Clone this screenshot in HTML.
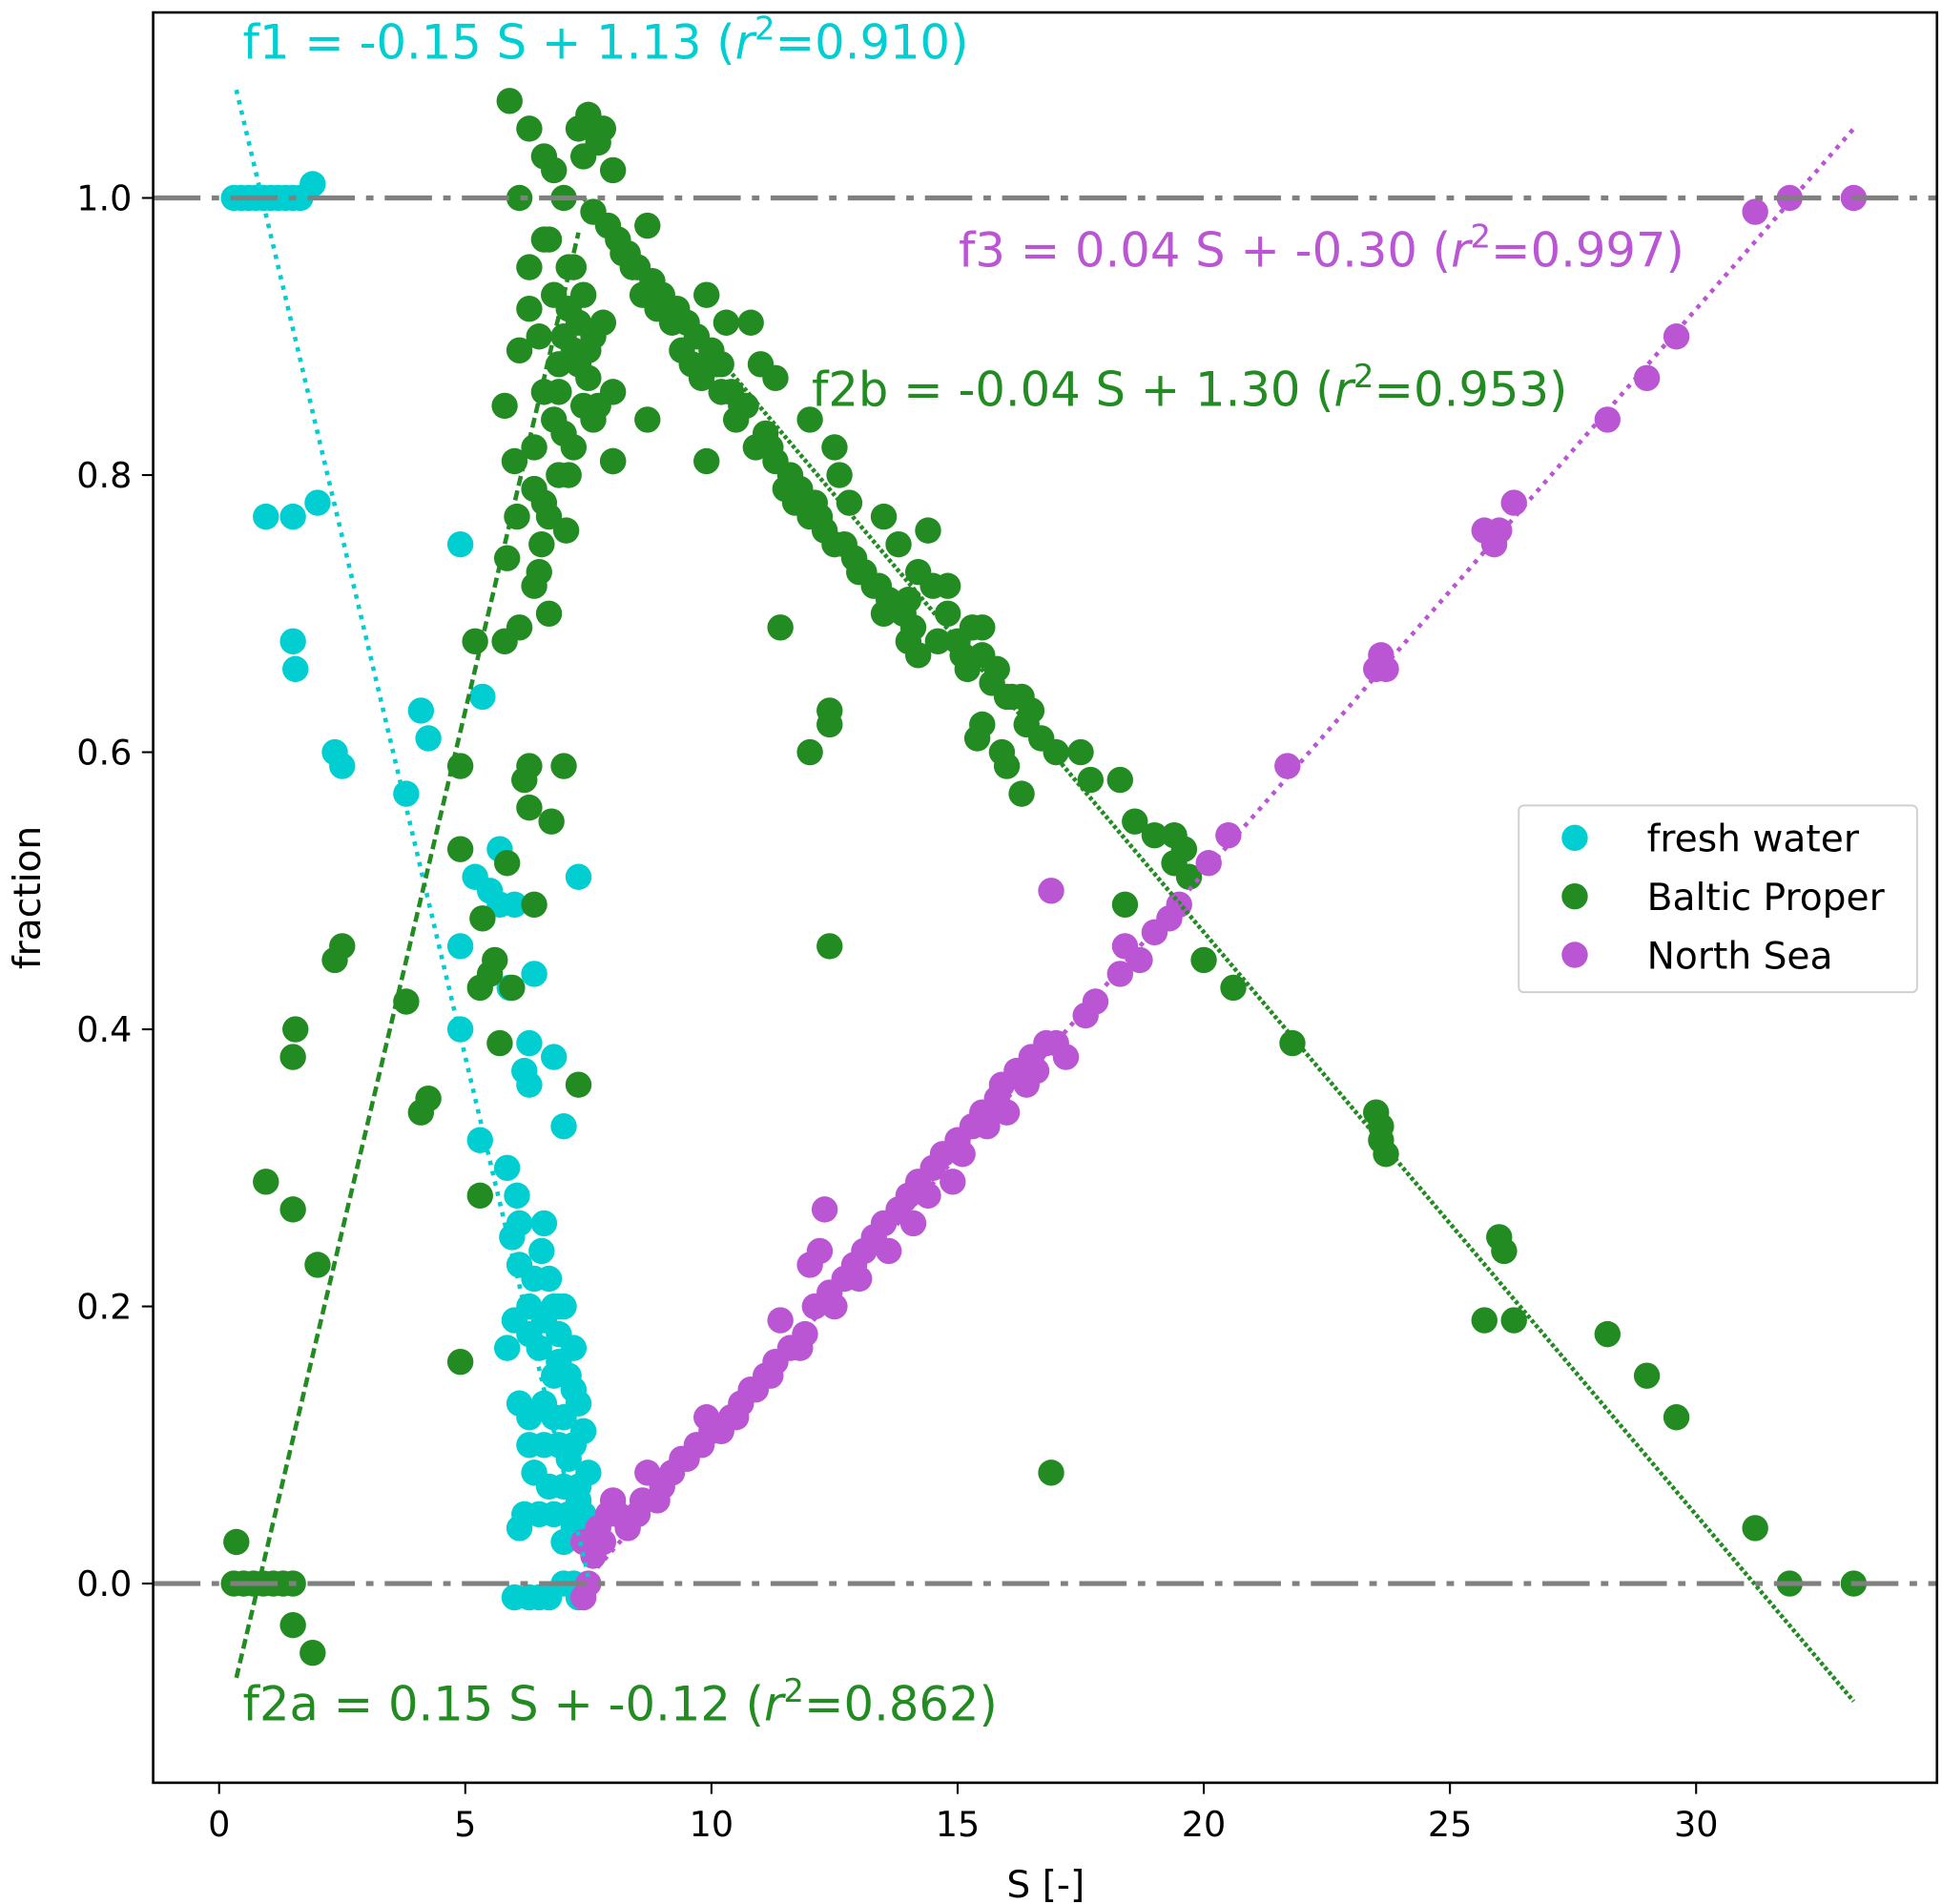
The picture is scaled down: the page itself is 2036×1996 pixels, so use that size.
<!DOCTYPE html>
<html><head><meta charset="utf-8"><style>
html,body{margin:0;padding:0;background:#fff;}
svg{display:block;font-family:"DejaVu Sans","Liberation Sans",sans-serif;}
</style></head><body>
<svg id="chart" width="2036" height="1996" viewBox="0 0 1560 1529.4" xmlns="http://www.w3.org/2000/svg">
<rect x="0" y="0" width="1560" height="1530" fill="#fff"/>
<g id="plot"></g>
</svg>
<script>
// ---- data ----
const xTicks = [0,5,10,15,20,25,30];
const yTicks = [0.0,0.2,0.4,0.6,0.8,1.0];
const yTickLabels = ["0.0","0.2","0.4","0.6","0.8","1.0"];
const freshS = [0.3,0.45,0.6,0.75,0.9,1.05,1.2,1.35,1.5,1.65,1.9,0.95,1.5,2.0,1.5,1.55,2.35,2.5,4.1,4.25,3.8,4.9,5.35,5.2,5.5,5.7,6.0,5.7,4.9,4.9,6.4,5.9,6.3,6.2,6.3,6.8,7.0,7.3,5.3,5.85,6.05,5.95,6.1,6.6,6.55,6.4,6.1,6.3,6.0,5.85,6.6,6.9,6.7,6.8,7.0,6.3,6.5,6.9,7.1,7.2,6.1,6.3,6.6,6.8,7.0,7.3,6.3,6.6,6.9,7.2,7.4,6.4,6.7,7.0,7.3,7.5,6.2,6.1,6.5,6.8,7.1,7.4,6.8,7.2,6.9,7.1,7.3,7.0,7.2,6.0,6.3,6.5,6.7,7.0,7.2,7.3];
const freshF = [1.0,1.0,1.0,1.0,1.0,1.0,1.0,1.0,1.0,1.0,1.01,0.77,0.77,0.78,0.68,0.66,0.60,0.59,0.63,0.61,0.57,0.75,0.64,0.51,0.50,0.49,0.49,0.53,0.46,0.40,0.44,0.43,0.39,0.37,0.36,0.38,0.33,0.51,0.32,0.30,0.28,0.25,0.26,0.26,0.24,0.22,0.23,0.20,0.19,0.17,0.19,0.20,0.22,0.20,0.20,0.18,0.17,0.16,0.15,0.14,0.13,0.12,0.13,0.12,0.12,0.13,0.10,0.10,0.10,0.10,0.11,0.08,0.07,0.07,0.07,0.08,0.05,0.04,0.05,0.05,0.05,0.05,0.15,0.17,0.18,0.09,0.06,0.03,0.04,-0.01,-0.01,-0.01,-0.01,0.0,0.0,-0.01];
const balticS = [0.35,0.3,0.5,0.7,0.9,1.1,1.3,1.5,1.5,1.9,0.95,1.5,2.0,1.5,1.55,2.35,2.5,3.8,4.1,4.25,4.9,4.9,4.9,5.3,5.3,5.2,5.35,5.5,5.6,5.7,5.85,5.95,5.8,5.85,5.8,6.0,6.05,6.1,6.1,6.1,6.2,6.3,6.3,6.4,6.75,7.0,7.3,6.3,6.3,6.4,6.4,6.4,6.5,6.55,6.7,6.6,6.7,6.6,6.7,6.8,6.9,6.5,6.6,6.8,7.0,7.1,7.2,7.3,7.4,7.5,6.9,7.0,7.1,7.2,7.3,7.4,7.6,7.7,7.8,8.0,8.0,6.9,7.05,7.1,7.2,7.5,7.6,5.9,6.3,6.6,6.8,7.0,7.3,7.5,7.7,8.0,7.4,7.8,7.6,7.9,8.2,8.4,8.6,8.7,8.9,9.2,9.4,9.6,9.9,9.8,10.2,10.5,10.3,10.8,10.9,11.3,11.0,11.3,11.5,11.7,12.0,12.0,12.3,12.5,12.5,12.6,12.8,13.0,13.3,13.5,13.5,13.8,14.0,14.0,14.2,14.4,14.2,14.5,14.8,14.8,15.0,15.3,15.5,15.5,15.8,16.0,16.3,16.4,16.7,17.0,17.5,17.7,15.5,15.4,15.9,16.0,16.3,18.3,18.6,19.0,19.4,19.6,19.4,19.7,18.4,20.0,20.6,21.8,23.5,23.6,23.7,23.6,26.0,26.1,25.7,26.3,28.2,29.0,29.6,31.2,31.9,33.2,16.9,12.4,11.4,12.0,12.4,12.4,9.9,8.7,8.0,10.2,8.1,8.3,8.5,8.8,9.0,9.3,9.5,9.7,10.0,10.1,10.4,10.6,10.7,11.1,11.2,11.6,11.8,12.1,12.2,12.7,12.9,13.1,13.4,13.6,13.9,14.1,14.6,15.1,15.2,15.7,16.1,16.5];
const balticF = [0.03,0.0,0.0,0.0,0.0,0.0,0.0,0.0,-0.03,-0.05,0.29,0.27,0.23,0.38,0.40,0.45,0.46,0.42,0.34,0.35,0.16,0.53,0.59,0.28,0.43,0.68,0.48,0.44,0.45,0.39,0.52,0.43,0.68,0.74,0.85,0.81,0.77,0.69,0.89,1.0,0.58,0.59,0.56,0.49,0.55,0.59,0.36,0.95,0.92,0.82,0.79,0.72,0.73,0.75,0.70,0.78,0.77,0.97,0.97,0.93,0.88,0.90,0.86,0.84,0.90,0.92,0.95,0.88,0.85,0.87,0.80,0.83,0.80,0.82,0.91,0.93,0.84,0.85,0.91,0.86,0.81,0.86,0.76,0.95,0.89,0.89,0.90,1.07,1.05,1.03,1.02,1.00,1.05,1.06,1.04,1.02,1.03,1.05,0.99,0.98,0.96,0.95,0.93,0.98,0.92,0.91,0.89,0.88,0.93,0.87,0.86,0.84,0.91,0.91,0.82,0.81,0.88,0.87,0.79,0.78,0.84,0.77,0.76,0.75,0.82,0.80,0.78,0.73,0.72,0.77,0.70,0.75,0.71,0.68,0.67,0.76,0.73,0.72,0.72,0.70,0.68,0.69,0.69,0.67,0.66,0.64,0.64,0.62,0.61,0.60,0.60,0.58,0.62,0.61,0.60,0.59,0.57,0.58,0.55,0.54,0.54,0.53,0.52,0.51,0.49,0.45,0.43,0.39,0.34,0.33,0.31,0.32,0.25,0.24,0.19,0.19,0.18,0.15,0.12,0.04,0.0,0.0,0.08,0.46,0.69,0.60,0.62,0.63,0.81,0.84,0.81,0.88,0.97,0.96,0.95,0.94,0.93,0.92,0.91,0.90,0.89,0.88,0.86,0.85,0.85,0.83,0.82,0.80,0.79,0.78,0.77,0.75,0.74,0.73,0.72,0.71,0.70,0.69,0.68,0.67,0.66,0.65,0.64,0.63];
const northS = [7.4,7.5,7.6,7.4,7.7,7.9,8.0,8.3,8.5,8.7,8.9,9.2,9.5,9.8,9.9,10.2,10.4,10.6,10.9,11.1,11.3,11.4,11.6,11.9,12.1,12.0,12.2,12.3,12.4,12.7,12.9,13.1,13.3,13.5,13.8,14.0,14.2,14.5,14.7,15.0,15.3,15.5,15.8,15.9,16.2,16.5,16.8,17.0,16.9,17.6,17.8,18.3,18.4,18.7,19.0,19.3,19.5,20.1,20.5,21.7,23.5,23.6,23.7,25.7,25.9,26.0,26.3,28.2,29.0,29.6,31.2,31.9,33.2,7.8,8.1,8.6,9.0,9.4,9.7,10.0,10.5,10.8,11.2,11.8,12.5,13.0,13.6,14.1,14.4,14.9,15.1,15.6,16.0,16.4,16.6,17.2];
const northF = [-0.01,0.0,0.02,0.03,0.04,0.05,0.06,0.04,0.05,0.08,0.06,0.08,0.09,0.10,0.12,0.11,0.12,0.13,0.14,0.15,0.16,0.19,0.17,0.18,0.20,0.23,0.24,0.27,0.21,0.22,0.23,0.24,0.25,0.26,0.27,0.28,0.29,0.30,0.31,0.32,0.33,0.34,0.35,0.36,0.37,0.38,0.39,0.39,0.50,0.41,0.42,0.44,0.46,0.45,0.47,0.48,0.49,0.52,0.54,0.59,0.66,0.67,0.66,0.76,0.75,0.76,0.78,0.84,0.87,0.90,0.99,1.0,1.0,0.03,0.05,0.06,0.07,0.09,0.10,0.11,0.12,0.14,0.15,0.17,0.20,0.22,0.24,0.26,0.28,0.29,0.31,0.33,0.34,0.36,0.37,0.38];
const fitF1 = [0.35, 1.078, 7.5, 0.005];
const fitF2a = [0.35, -0.068, 7.3, 0.975];
const fitF2b = [7.4, 1.0, 33.2, -0.085];
const fitF3 = [7.4, 0.0, 33.2, 1.05];

// ---- axes ----
const L=123,R=1556,T=10,B=1432;
function xs(v){return 176+v*39.55;}
function ys(v){return 1272-v*1113;}
const NS="http://www.w3.org/2000/svg";
const g=document.getElementById('plot');
function el(tag,attrs,parent){const e=document.createElementNS(NS,tag);for(const k in attrs)e.setAttribute(k,attrs[k]);(parent||g).appendChild(e);return e;}

const C_FRESH="#00ced1",C_BALTIC="#228b22",C_NORTH="#ba55d3";
function scatter(S,F,color,name){
  const grp=el('g',{});
  
  
  for(let i=0;i<S.length;i++){
    const c=el('circle',{cx:xs(S[i]),cy:ys(F[i]),r:10.5,fill:color},grp);
    
    
  }
}
scatter(freshS,freshF,C_FRESH,'fresh-water');
scatter(balticS,balticF,C_BALTIC,'baltic-proper');
scatter(northS,northF,C_NORTH,'north-sea');

function fit(a,color,dash,name){
  const l=el('line',{x1:xs(a[0]),y1:ys(a[1]),x2:xs(a[2]),y2:ys(a[3]),stroke:color,'stroke-width':3.5,'stroke-dasharray':dash});
  
  
}
fit(fitF1,C_FRESH,"3.5 5",'fit-line-f1');
fit(fitF2a,C_BALTIC,"8 4",'fit-line-f2a');
fit(fitF2b,C_BALTIC,"3 2",'fit-line-f2b');
fit(fitF3,C_NORTH,"3.5 5",'fit-line-f3');

[1,0].forEach(v=>{
  const l=el('line',{x1:L,y1:ys(v),x2:R,y2:ys(v),stroke:"#808080",'stroke-width':4,'stroke-dasharray':"38 9 6 9"});
  
  
});

const fr=el('rect',{x:L,y:T,width:R-L,height:B-T,fill:"none",stroke:"#000",'stroke-width':2});



xTicks.forEach(v=>{
  const t=el('line',{x1:xs(v),y1:B,x2:xs(v),y2:B+9,stroke:"#000",'stroke-width':1.6});
  
  
  const tx=el('text',{x:xs(v),y:B+43,'font-size':28,'text-anchor':'middle',fill:'#000'});
  tx.textContent=String(v);
  
  
});
yTicks.forEach((v,i)=>{
  const t=el('line',{x1:L-9,y1:ys(v),x2:L,y2:ys(v),stroke:"#000",'stroke-width':1.6});
  
  
  const tx=el('text',{x:L-17,y:ys(v)+10,'font-size':28,'text-anchor':'end',fill:'#000'});
  tx.textContent=yTickLabels[i];
  
  
});
</script>
<script>
(function(){
  const svg=document.getElementById('chart');
  const add=(html)=>svg.insertAdjacentHTML('beforeend',html);
  add('<text x="840" y="1524" font-size="30" text-anchor="middle" fill="#000">S [-]</text>');
  add('<text x="0" y="0" font-size="30" text-anchor="middle" fill="#000" transform="translate(32,721) rotate(-90)">fraction</text>');
  add('<text x="195" y="47" font-size="38" fill="#00ced1">f1 = -0.15 S + 1.13 (<tspan font-style="italic">r</tspan><tspan dy="-15" font-size="26">2</tspan><tspan dy="15">=0.910)</tspan></text>');
  add('<text x="770" y="214" font-size="38" fill="#ba55d3">f3 = 0.04 S + -0.30 (<tspan font-style="italic">r</tspan><tspan dy="-15" font-size="26">2</tspan><tspan dy="15">=0.997)</tspan></text>');
  add('<text x="652" y="326" font-size="38" fill="#228b22">f2b = -0.04 S + 1.30 (<tspan font-style="italic">r</tspan><tspan dy="-15" font-size="26">2</tspan><tspan dy="15">=0.953)</tspan></text>');
  add('<text x="195" y="1382" font-size="38" fill="#228b22">f2a = 0.15 S + -0.12 (<tspan font-style="italic">r</tspan><tspan dy="-15" font-size="26">2</tspan><tspan dy="15">=0.862)</tspan></text>');
  add('<g>'+
    '<rect x="1220" y="647" width="320" height="150" rx="4" fill="#fff" fill-opacity="0.8" stroke="#d0d0d0" stroke-width="1.5"/>'+
    '<circle cx="1265" cy="673" r="10.5" fill="#00ced1"/>'+
    '<text x="1323" y="684" font-size="30" fill="#000">fresh water</text>'+
    '<circle cx="1265" cy="720" r="10.5" fill="#228b22"/>'+
    '<text x="1323" y="731" font-size="30" fill="#000">Baltic Proper</text>'+
    '<circle cx="1265" cy="767" r="10.5" fill="#ba55d3"/>'+
    '<text x="1323" y="778" font-size="30" fill="#000">North Sea</text>'+
  '</g>');
})();
</script>
</body></html>
